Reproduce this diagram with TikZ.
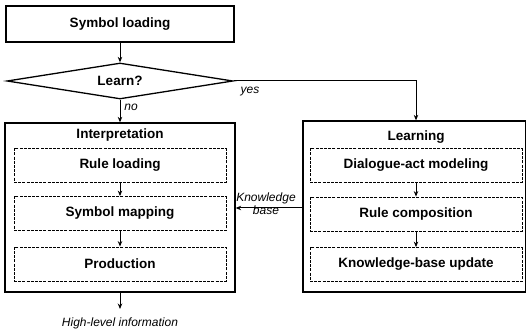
\documentclass[tikz,border=0pt]{standalone}
\usepackage{fontspec}
\setmainfont{Liberation Sans}
\usetikzlibrary{shapes.geometric,arrows.meta}
\begin{document}
\begin{tikzpicture}[x=1pt,y=-1pt,
  solidbox/.style={draw,line width=1.3pt,inner sep=0pt},
  dashbox/.style={draw,line width=0.8pt,dash pattern=on 3pt off 1.2pt,inner sep=0pt,
    minimum width=212pt,minimum height=34pt,font=\fontsize{13.5}{15}\selectfont\bfseries},
  btext/.style={font=\fontsize{13.5}{15}\selectfont\bfseries},
  lbl/.style={font=\fontsize{12}{13.5}\selectfont\itshape,inner sep=0pt},
  arr/.style={line width=1pt,-{Stealth[length=5.5pt,width=4.5pt]}},
  ln/.style={line width=1pt}]
\useasboundingbox (0,0) rectangle (526,336);
% left column
\node[solidbox,minimum width=228pt,minimum height=36pt,btext] (top) at (120,24) {Symbol loading};
\node[draw,diamond,aspect=6.5,line width=1.3pt,inner sep=0pt,minimum width=226pt,minimum height=36pt,btext] (dia) at (120,81) {Learn?};
\node[solidbox,minimum width=230pt,minimum height=169pt] (interp) at (120,207.5) {};
\node[btext] (interpl) at (120,135) {Interpretation};
\node[dashbox] (rl) at (120,165.5) {Rule loading};
\node[dashbox] (sm) at (120,213.5) {Symbol mapping};
\node[dashbox] (pr) at (120,264) {Production};
% right column
\node[solidbox,minimum width=223pt,minimum height=171pt] (learn) at (414.5,206.5) {};
\node[btext] (learnl) at (416,137) {Learning};
\node[dashbox] (dlg) at (416,165.5) {Dialogue-act modeling};
\node[dashbox] (rc) at (416,214) {Rule composition};
\node[dashbox] (kbu) at (416,264.5) {Knowledge-base update};
% connectors
\draw[arr] (top.south) -- (dia.north);
\draw[arr] (dia.south) -- (dia.south |- interp.north);
\node[lbl] (no) at (131,107) {no};
\draw[arr] (dia.east) -| (dlg.north |- learn.north);
\node[lbl] (yes) at (250,92) {yes};
\draw[arr] (rl.south) -- (sm.north);
\draw[arr] (sm.south) -- (pr.north);
\draw[arr] (dlg.south) -- (rc.north);
\draw[arr] (rc.south) -- (kbu.north);
\coordinate (kb) at (268,208);
\draw[arr] (learn.west |- kb) -- (interp.east |- kb);
\node[lbl,align=center] (kbl) at (266,203.5) {Knowledge\\[-1pt]base};
\coordinate (out) at (120,309);
\draw[arr] (interp.south) -- (out);
\node[lbl] (outl) at (120,323) {High-level information};
\end{tikzpicture}
\end{document}
